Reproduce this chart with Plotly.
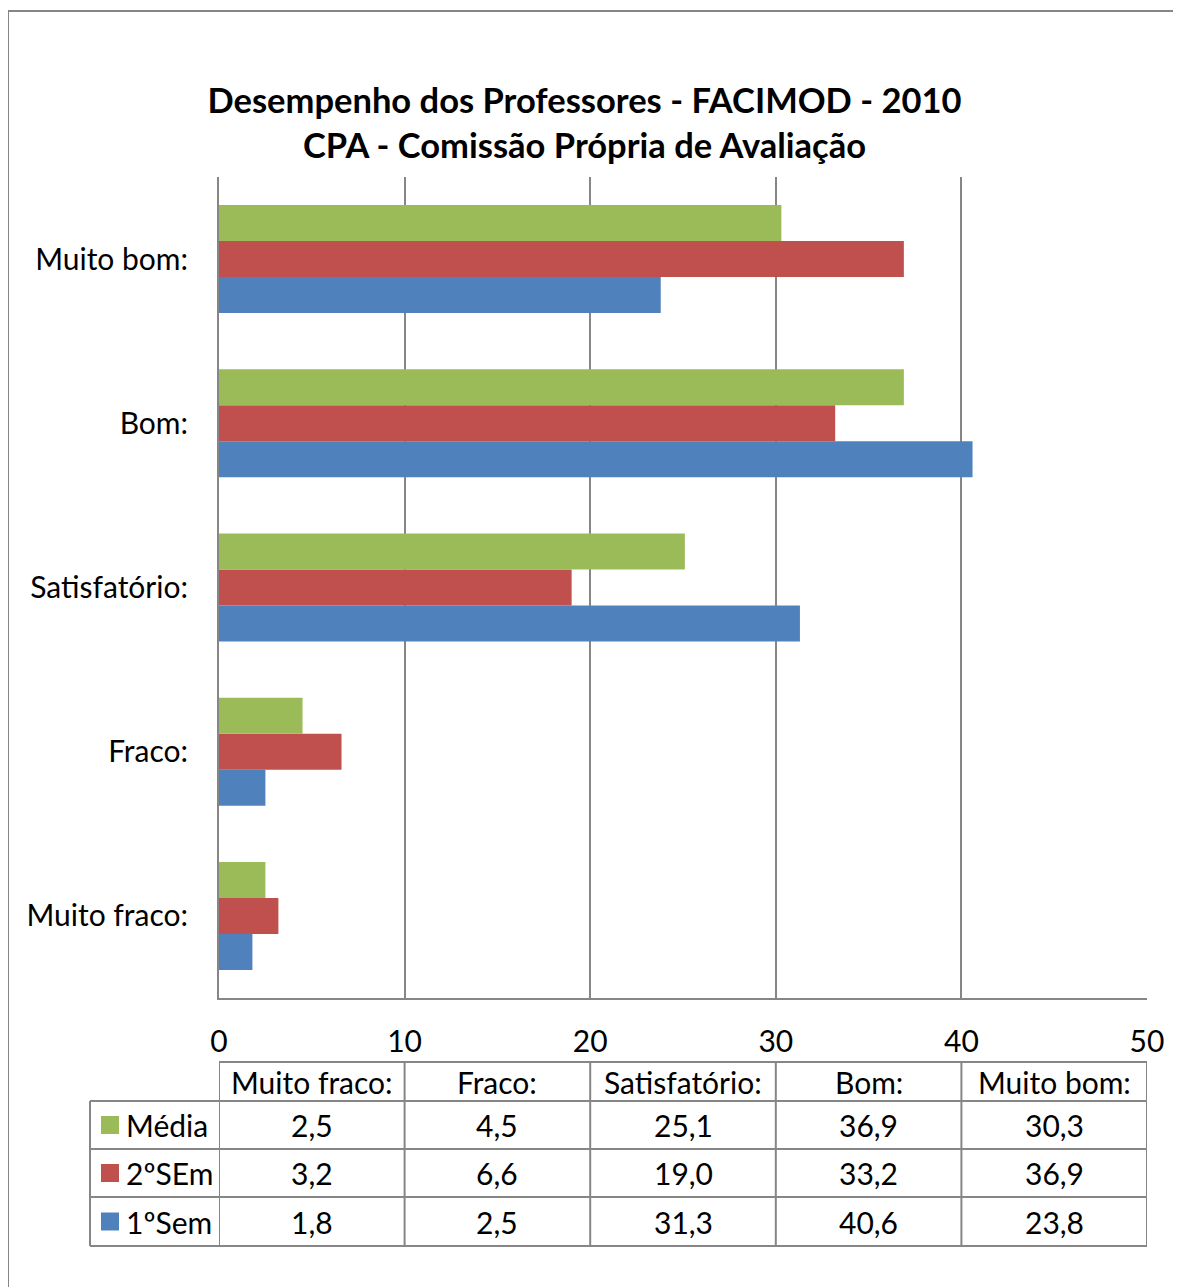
import plotly.graph_objects as go

categories = ["Muito fraco:", "Fraco:", "Satisfatório:", "Bom:", "Muito bom:"]
media = [2.5, 4.5, 25.1, 36.9, 30.3]
sem2 = [3.2, 6.6, 19.0, 33.2, 36.9]
sem1 = [1.8, 2.5, 31.3, 40.6, 23.8]
series_names = ["Média", "2ºSEm", "1ºSem"]
series_values = [media, sem2, sem1]
series_colors = ["#9BBB59", "#C0504D", "#4F81BD"]
x_ticks = [0, 10, 20, 30, 40, 50]

FONT = "Lato"
OFF = 8  # page body margin
W, H = 1181 - OFF, 1287 - OFF
L, R, T, B = 219 - OFF, 1147 - OFF, 177 - OFF, 998 - OFF
GRID = "#868686"
FS = 30

def py(p):  # page pixel y -> paper y
    return (B - (p - OFF)) / (B - T)

def px(p):  # page pixel x -> paper x
    return ((p - OFF) - L) / (R - L)

fig = go.Figure()
# plotly draws first trace at the bottom of each group
for name, vals, col in reversed(list(zip(series_names, series_values, series_colors))):
    fig.add_trace(go.Bar(y=categories, x=vals, name=name, orientation="h",
                         marker=dict(color=col, line=dict(width=0)), showlegend=False))

fig.update_layout(
    width=W, height=H,
    margin=dict(l=L, r=W - R, t=T, b=H - B, pad=0),
    paper_bgcolor="white", plot_bgcolor="white",
    barmode="group", bargap=0.342, bargroupgap=0,
    font=dict(family=FONT, color="black"),
    title=dict(text="<b>Desempenho dos Professores - FACIMOD - 2010<br>CPA - Comissão Própria de Avaliação</b>",
               x=0.4915, xanchor="center", y=1 - 105 / H, yanchor="middle",
               font=dict(family=FONT, size=34.5, color="black")),
    xaxis=dict(range=[0, 50], tickvals=x_ticks, showgrid=True, gridcolor=GRID, gridwidth=1.5,
               zeroline=False, showline=True, linecolor=GRID, linewidth=2,
               tickfont=dict(size=FS, family=FONT), ticklabelstandoff=16, fixedrange=True),
    yaxis=dict(categoryorder="array", categoryarray=categories, showgrid=False,
               showline=True, linecolor=GRID, linewidth=2,
               tickfont=dict(size=FS, family=FONT), ticklabelstandoff=23, fixedrange=True),
)

shapes = []
# outer frame
shapes.append(dict(type="rect", xref="paper", yref="paper", x0=px(8), x1=px(1200), y0=py(1300), y1=py(11),
                   line=dict(color=GRID, width=2), fillcolor="rgba(0,0,0,0)", layer="below"))
# table grid
row_tops = [1062, 1101, 1149, 1197, 1246]
line_style = dict(color=GRID, width=2)
shapes.append(dict(type="line", xref="x", yref="paper", x0=0, x1=50, y0=py(row_tops[0]), y1=py(row_tops[0]), line=line_style))
for yy in row_tops[1:]:
    shapes.append(dict(type="line", xref="paper", yref="paper", x0=px(90), x1=1, y0=py(yy), y1=py(yy), line=line_style))
for xv in x_ticks:
    shapes.append(dict(type="line", xref="x", yref="paper", x0=xv, x1=xv, y0=py(row_tops[0]), y1=py(row_tops[-1]), line=line_style))
shapes.append(dict(type="line", xref="paper", yref="paper", x0=px(90), x1=px(90), y0=py(row_tops[1]), y1=py(row_tops[-1]), line=line_style))

annotations = []
hdr_y = py((row_tops[0] + row_tops[1]) / 2)
for i, cat in enumerate(categories):
    annotations.append(dict(xref="x", yref="paper", x=x_ticks[i] + 5, y=hdr_y, text=cat, showarrow=False,
                            xanchor="center", yanchor="middle", font=dict(size=FS, family=FONT)))
for r, (name, vals, col) in enumerate(zip(series_names, series_values, series_colors)):
    yc = (row_tops[r + 1] + row_tops[r + 2]) / 2
    for i, v in enumerate(vals):
        annotations.append(dict(xref="x", yref="paper", x=x_ticks[i] + 5, y=py(yc),
                                text=f"{v:.1f}".replace(".", ","), showarrow=False,
                                xanchor="center", yanchor="middle", font=dict(size=FS, family=FONT)))
    shapes.append(dict(type="rect", xref="paper", yref="paper", x0=px(101), x1=px(119),
                       y0=py(yc + 9), y1=py(yc - 9), fillcolor=col, line=dict(width=0)))
    annotations.append(dict(xref="paper", yref="paper", x=px(124), y=py(yc), text=name, showarrow=False,
                            xanchor="left", yanchor="middle", font=dict(size=FS, family=FONT)))

fig.update_layout(shapes=shapes, annotations=annotations)
fig.write_html("out.html")
